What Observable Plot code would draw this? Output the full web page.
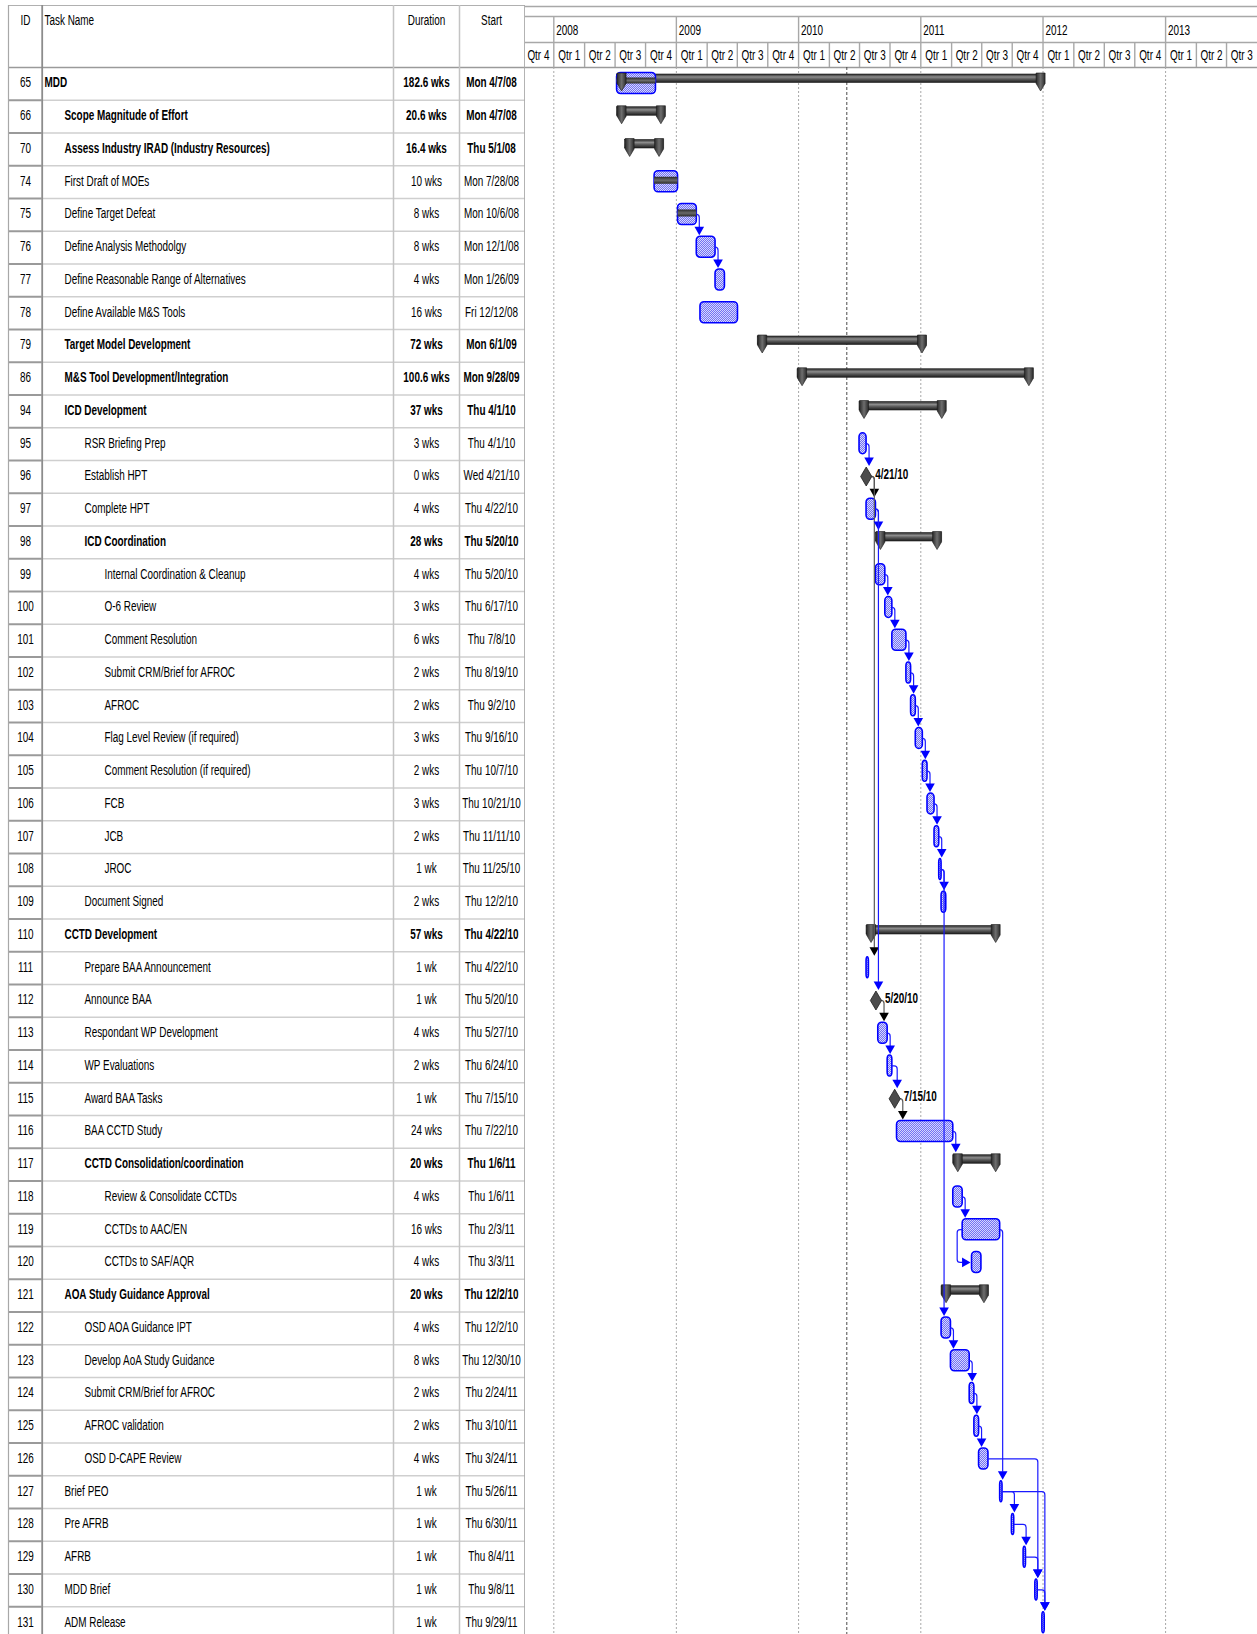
<!DOCTYPE html>
<html><head><meta charset="utf-8">
<script src="https://cdn.jsdelivr.net/npm/d3@7"></script>
<script src="https://cdn.jsdelivr.net/npm/@observablehq/plot@0.6"></script>
<style>
html,body{margin:0;padding:0;background:#fff;overflow:hidden}
#chart{display:flex;width:1257px;height:1634px;overflow:hidden;background:#fff}
#chart svg{display:block;flex:none;overflow:hidden}
</style></head><body><div id="chart"></div>
<script>
// ---------------- DATA ----------------
const ids = [65,66,70,74,75,76,77,78,79,86,94,95,96,97,98,99,100,101,102,103,104,105,106,107,108,109,110,111,112,113,114,115,116,117,118,119,120,121,122,123,124,125,126,127,128,129,130,131];
const names = ["MDD","Scope Magnitude of Effort","Assess Industry IRAD (Industry Resources)","First Draft of MOEs","Define Target Defeat","Define Analysis Methodolgy","Define Reasonable Range of Alternatives","Define Available M&S Tools","Target Model Development","M&S Tool Development/Integration","ICD Development","RSR Briefing Prep","Establish HPT","Complete HPT","ICD Coordination","Internal Coordination & Cleanup","O-6 Review","Comment Resolution","Submit CRM/Brief for AFROC","AFROC","Flag Level Review (if required)","Comment Resolution (if required)","FCB","JCB","JROC","Document Signed","CCTD Development","Prepare BAA Announcement","Announce BAA","Respondant WP Development","WP Evaluations","Award BAA Tasks","BAA CCTD Study","CCTD Consolidation/coordination","Review & Consolidate CCTDs","CCTDs to AAC/EN","CCTDs to SAF/AQR","AOA Study Guidance Approval","OSD AOA Guidance IPT","Develop AoA Study Guidance","Submit CRM/Brief for AFROC","AFROC validation","OSD D-CAPE Review","Brief PEO","Pre AFRB","AFRB","MDD Brief","ADM Release"];
const levels = [0,1,1,1,1,1,1,1,1,1,1,2,2,2,2,3,3,3,3,3,3,3,3,3,3,2,1,2,2,2,2,2,2,2,3,3,3,1,2,2,2,2,2,1,1,1,1,1];
const durationWks = [182.6,20.6,16.4,10,8,8,4,16,72,100.6,37,3,0,4,28,4,3,6,2,2,3,2,3,2,1,2,57,1,1,4,2,1,24,20,4,16,4,20,4,8,2,2,4,1,1,1,1,1];
const startLabels = ["Mon 4/7/08","Mon 4/7/08","Thu 5/1/08","Mon 7/28/08","Mon 10/6/08","Mon 12/1/08","Mon 1/26/09","Fri 12/12/08","Mon 6/1/09","Mon 9/28/09","Thu 4/1/10","Thu 4/1/10","Wed 4/21/10","Thu 4/22/10","Thu 5/20/10","Thu 5/20/10","Thu 6/17/10","Thu 7/8/10","Thu 8/19/10","Thu 9/2/10","Thu 9/16/10","Thu 10/7/10","Thu 10/21/10","Thu 11/11/10","Thu 11/25/10","Thu 12/2/10","Thu 4/22/10","Thu 4/22/10","Thu 5/20/10","Thu 5/27/10","Thu 6/24/10","Thu 7/15/10","Thu 7/22/10","Thu 1/6/11","Thu 1/6/11","Thu 2/3/11","Thu 3/3/11","Thu 12/2/10","Thu 12/2/10","Thu 12/30/10","Thu 2/24/11","Thu 3/10/11","Thu 3/24/11","Thu 5/26/11","Thu 6/30/11","Thu 8/4/11","Thu 9/8/11","Thu 9/29/11"];
const summaryIds = [65,66,70,79,86,94,98,110,117,121];
const milestoneIds = [96,112,115];
const progressIds = [74,75];
const rollupRowId = 65, rollupStart = "2008-04-07", rollupEnd = "2008-08-01";
const linkFrom = [75,76,95,96,96,97,97,99,100,101,102,103,104,105,106,107,108,108,112,113,114,115,116,118,119,119,122,123,124,125,126,127,127,128,129,130];
const linkTo   = [76,77,96,97,111,98,112,100,101,102,103,104,105,106,107,108,109,122,113,114,115,116,117,119,120,127,123,124,125,126,130,128,131,129,130,131];
const linkType = ["FS","FS","FS","FS","FS","FS","FS","FS","FS","FS","FS","FS","FS","FS","FS","FS","FS","FS","FS","FS","FS","FS","FS","FS","SS","FS","FS","FS","FS","FS","FS","FS","FS","FS","FS","FS"];
const tableHeaders = ["ID","Task Name","Duration","Start"];
const fyYears = ["2008","2009","2010","2011","2012","2013"];
const quarterLabels = ["Qtr 4","Qtr 1","Qtr 2","Qtr 3","Qtr 4","Qtr 1","Qtr 2","Qtr 3","Qtr 4","Qtr 1","Qtr 2","Qtr 3","Qtr 4","Qtr 1","Qtr 2","Qtr 3","Qtr 4","Qtr 1","Qtr 2","Qtr 3","Qtr 4","Qtr 1","Qtr 2","Qtr 3"];
const timelineStart = "2007-07-01", timelineEnd = "2013-07-01";
const statusDate = "2010-02-22";

// ---------------- LAYOUT ----------------
const ROW_H = 32.75, HEADER_H = 67, N = ids.length;
const FONT = "'Liberation Sans', Arial, sans-serif";
const FS = 15.5, NARROW = 0.64, TDY = -1.5;
const hy = px => (px - HEADER_H) / ROW_H;      // header pixel offset -> y units
const ry = (i, px) => i + px / ROW_H;           // offset inside row i -> y units
const yScale = {domain: [-HEADER_H / ROW_H, N], range: [0, HEADER_H + N * ROW_H], axis: null};

const parseStart = s => { const [m, d, y] = s.split(" ")[1].split("/").map(Number); return new Date(Date.UTC(2000 + y, m - 1, d)); };
const rows = ids.map((id, i) => {
  const start = parseStart(startLabels[i]);
  const dur = durationWks[i];
  return {
    i, id, name: names[i], level: levels[i], dur,
    durLabel: dur === 1 ? "1 wk" : `${dur} wks`,
    startLabel: startLabels[i], start,
    finish: new Date(+start + dur * 7 * 864e5),
    kind: summaryIds.includes(id) ? "summary" : milestoneIds.includes(id) ? "milestone" : "task",
    bold: summaryIds.includes(id)
  };
});
const byId = new Map(rows.map(r => [r.id, r]));
const summaries = rows.filter(r => r.kind === "summary");
const tasks = rows.filter(r => r.kind === "task");
const milestones = rows.filter(r => r.kind === "milestone");
const progress = rows.filter(r => progressIds.includes(r.id));
const rollup = [{i: byId.get(rollupRowId).i, start: new Date(rollupStart), finish: new Date(rollupEnd)}];

const qStarts = d3.range(quarterLabels.length + 1).map(k => new Date(Date.UTC(2007, 6 + 3 * k, 1)));
const quarters = quarterLabels.map((label, k) => ({label, mid: new Date((+qStarts[k] + +qStarts[k + 1]) / 2)}));
const fyStarts = fyYears.map(y => new Date(Date.UTC(+y - 1, 9, 1)));

// ---------------- TABLE ----------------
const colX = {left: 8, id: 41.7, dur: 393, start: 459, right: 524.5};
const textPos = {id: 25, name: 44, indent: 20, dur: 426, start: 491};
const headerX = [textPos.id, textPos.name, textPos.dur, textPos.start];
const headerAnchor = ["middle", "start", "middle", "middle"];
const T = (data, opts) => Plot.text(data, {fontSize: FS, fill: "black", dy: TDY, ...opts});

const table = Plot.plot({
  width: 525, height: 1634, margin: 0,
  x: {domain: [0, 525], range: [0, 525], axis: null},
  y: yScale,
  style: {background: "white", fontFamily: FONT, fontSize: FS + "px", color: "black"},
  marks: [
    Plot.ruleY(d3.range(1, N + 1), {x1: colX.id, x2: colX.right, stroke: "#cfcfcf", strokeWidth: 1.6}),
    Plot.ruleY(d3.range(1, N + 1), {x1: colX.left, x2: colX.id, stroke: "#9a9a9a", strokeWidth: 2}),
    Plot.ruleY([hy(5)], {x1: colX.left, x2: colX.right, stroke: "#b0b0b0", strokeWidth: 1.2}),
    Plot.ruleY([0], {x1: colX.left, x2: colX.right, stroke: "#9a9a9a", strokeWidth: 1.5}),
    Plot.ruleX([colX.left], {y1: hy(5), y2: N, stroke: "#a8a8a8", strokeWidth: 1.2}),
    Plot.ruleX([colX.id], {y1: hy(5), y2: N, stroke: "#8c8c8c", strokeWidth: 1.8}),
    Plot.ruleX([colX.dur, colX.start], {y1: hy(5), y2: N, stroke: "#c4c4c4", strokeWidth: 1.5}),
    Plot.ruleX([colX.right], {y1: hy(5), y2: N, stroke: "#9a9a9a", strokeWidth: 1.5}),
    ...tableHeaders.map((h, k) => T([h], {x: headerX[k], y: hy(20), text: d => d, textAnchor: headerAnchor[k], dy: 0})),
    T(rows, {x: textPos.id, y: d => d.i + 0.5, text: d => String(d.id), textAnchor: "middle"}),
    T(rows.filter(d => !d.bold), {x: d => textPos.name + textPos.indent * d.level, y: d => d.i + 0.5, text: "name", textAnchor: "start"}),
    T(rows.filter(d => d.bold), {x: d => textPos.name + textPos.indent * d.level, y: d => d.i + 0.5, text: "name", textAnchor: "start", fontWeight: "bold"}),
    T(rows.filter(d => !d.bold), {x: textPos.dur, y: d => d.i + 0.5, text: "durLabel", textAnchor: "middle"}),
    T(rows.filter(d => d.bold), {x: textPos.dur, y: d => d.i + 0.5, text: "durLabel", textAnchor: "middle", fontWeight: "bold"}),
    T(rows.filter(d => !d.bold), {x: textPos.start, y: d => d.i + 0.5, text: "startLabel", textAnchor: "middle"}),
    T(rows.filter(d => d.bold), {x: textPos.start, y: d => d.i + 0.5, text: "startLabel", textAnchor: "middle", fontWeight: "bold"})
  ]
});

// ---------------- GANTT ----------------
const defsMark = () => {
  const g = d3.create("svg:g");
  g.html(`<defs>
    <pattern id="dith" width="2" height="2" patternUnits="userSpaceOnUse">
      <rect width="2" height="2" fill="#d6d6ff"/>
      <rect width="1" height="1" fill="#7373f2"/>
      <rect x="1" y="1" width="1" height="1" fill="#7373f2"/>
    </pattern>
    <linearGradient id="sumg" x1="0" y1="0" x2="0" y2="1">
      <stop offset="0" stop-color="#262626"/>
      <stop offset="0.35" stop-color="#8c8c8c"/>
      <stop offset="0.6" stop-color="#5a5a5a"/>
      <stop offset="1" stop-color="#1c1c1c"/>
    </linearGradient>
    <linearGradient id="capg" x1="0" y1="0" x2="1" y2="0">
      <stop offset="0" stop-color="#2a2a2a"/>
      <stop offset="0.5" stop-color="#6e6e6e"/>
      <stop offset="1" stop-color="#2a2a2a"/>
    </linearGradient>
    <linearGradient id="progg" x1="0" y1="0" x2="0" y2="1">
      <stop offset="0" stop-color="#2a2a2a"/>
      <stop offset="0.5" stop-color="#6a6a6a"/>
      <stop offset="1" stop-color="#2a2a2a"/>
    </linearGradient>
  </defs>`);
  return g.node();
};

const capSymbol = {draw(ctx) {
  ctx.moveTo(-4.5, -5.5); ctx.lineTo(4.5, -5.5); ctx.lineTo(4.5, 5); ctx.lineTo(0, 12.5); ctx.lineTo(-4.5, 5); ctx.closePath();
}};
const diamondSymbol = {draw(ctx) {
  ctx.moveTo(0, -9.5); ctx.lineTo(5.6, 0); ctx.lineTo(0, 9.5); ctx.lineTo(-5.6, 0); ctx.closePath();
}};

function linksMark(index, scales) {
  const X = scales.x, Y = scales.y;
  const g = d3.create("svg:g").attr("fill", "none");
  for (let k = 0; k < linkFrom.length; ++k) {
    const p = byId.get(linkFrom[k]), s = byId.get(linkTo[k]);
    const headCol = p.kind === "task" ? "#0000ff" : "#000000";
    const lineCol = p.kind === "task" ? "#1a1aff" : "#5a5a5a";
    const yc = Y(p.i + 0.5);
    let path, head;
    if (linkType[k] === "SS") {
      const x0 = X(p.start), x1 = X(s.start) - 1, y2 = Y(s.i + 0.5), lx = x0 - 5;
      path = `M${x0},${yc}H${lx + 3}Q${lx},${yc} ${lx},${yc + 3}V${y2 - 3}Q${lx},${y2} ${lx + 3},${y2}H${x1 - 8}`;
      head = `M${x1 - 8.5},${y2 - 4.8}L${x1 - 8.5},${y2 + 4.8}L${x1},${y2}Z`;
    } else {
      const xe = p.kind === "milestone" ? X(p.start) + 5.6 : X(p.finish);
      const vx = Math.max(xe, X(s.start)) + 3;
      const tip = Y(s.i) + (s.kind === "milestone" ? 6 : 4.5);
      path = `M${xe},${yc}H${vx - 3}Q${vx},${yc} ${vx},${yc + 3}V${tip - 8}`;
      head = `M${vx - 4.8},${tip - 8.5}L${vx + 4.8},${tip - 8.5}L${vx},${tip}Z`;
    }
    g.append("path").attr("d", path).attr("stroke", lineCol).attr("stroke-width", 1.2);
    g.append("path").attr("d", head).attr("fill", headCol);
  }
  return g.node();
}

const gantt = Plot.plot({
  width: 732, height: 1634, margin: 0,
  x: {type: "utc", domain: [new Date(timelineStart), new Date(timelineEnd)], range: [-2.5, 731.5], axis: null},
  y: yScale,
  style: {background: "white", fontFamily: FONT, fontSize: FS + "px", color: "black"},
  marks: [
    defsMark,
    // header
    Plot.ruleY([hy(6), hy(16), hy(42)], {stroke: "#a8a8a8", strokeWidth: 1.4}),
    Plot.ruleY([0], {stroke: "#9a9a9a", strokeWidth: 1.5}),
    Plot.ruleX(qStarts.slice(1, -1), {y1: hy(42), y2: 0, stroke: "#a8a8a8", strokeWidth: 1.4}),
    Plot.ruleX(fyStarts, {y1: hy(16), y2: hy(42), stroke: "#a8a8a8", strokeWidth: 1.4}),
    Plot.text(fyYears, {x: (d, k) => fyStarts[k], y: hy(29.5), text: d => d, textAnchor: "start", dx: 2.5, fontSize: FS, fill: "black"}),
    Plot.text(quarters, {x: "mid", y: hy(55), text: "label", textAnchor: "middle", fontSize: FS, fill: "black"}),
    // body grid
    Plot.ruleX(fyStarts, {y1: 0, y2: N, stroke: "#a8a8a8", strokeWidth: 1, strokeDasharray: "2,2"}),
    Plot.ruleX([new Date(statusDate)], {y1: 0, y2: N, stroke: "#4a4a4a", strokeWidth: 1, strokeDasharray: "3,2"}),
    // summary bars
    Plot.rect(summaries, {x1: "start", x2: "finish", y1: d => ry(d.i, 7), y2: d => ry(d.i, 15.5), fill: "url(#sumg)", stroke: "#1e1e1e", strokeWidth: 0.6}),
    // rollup + tasks
    Plot.rect(rollup, {x1: "start", x2: "finish", y1: d => ry(d.i, 5.5), y2: d => ry(d.i, 26.5), rx: 4, fill: "url(#dith)", stroke: "#0000ff", strokeWidth: 1.6}),
    Plot.rect(tasks, {x1: "start", x2: "finish", y1: d => ry(d.i, 5.5), y2: d => ry(d.i, 26.5), rx: 4, fill: "url(#dith)", stroke: "#0000ff", strokeWidth: 1.6}),
    Plot.rect(progress, {x1: "start", x2: "finish", y1: d => ry(d.i, 11.5), y2: d => ry(d.i, 18.5), fill: "url(#progg)"}),
    Plot.rect(rollup, {x1: "start", x2: "finish", y1: d => ry(d.i, 10.5), y2: d => ry(d.i, 16.5), fill: "url(#progg)"}),
    // summary caps
    Plot.dot(summaries, {x: "start", y: d => ry(d.i, 11), symbol: capSymbol, r: 4, dx: 4.5, fill: "url(#capg)", stroke: "#1a1a1a", strokeWidth: 0.6}),
    Plot.dot(summaries, {x: "finish", y: d => ry(d.i, 11), symbol: capSymbol, r: 4, dx: -4.5, fill: "url(#capg)", stroke: "#1a1a1a", strokeWidth: 0.6}),
    // links
    linksMark,
    // milestones
    Plot.dot(milestones, {x: "start", y: d => ry(d.i, 16), symbol: diamondSymbol, r: 4, fill: "#4c4c4c", stroke: "#1e1e1e", strokeWidth: 0.8}),
    Plot.text(milestones, {x: "start", y: d => ry(d.i, 13.5), text: d => d.startLabel.split(" ")[1], textAnchor: "start", dx: 9, fontSize: 15.5, fontWeight: "bold", fill: "black"})
  ]
});

// narrow the text horizontally (condensed look of the original)
function narrow(svg, k) {
  svg.querySelectorAll("text").forEach(t => {
    const tr = t.getAttribute("transform") || "";
    t.setAttribute("transform", `${tr} scale(${k},1)`);
  });
}
narrow(table, NARROW);
narrow(gantt, NARROW);

const chart = document.getElementById("chart");
chart.append(table, gantt);
</script></body></html>
